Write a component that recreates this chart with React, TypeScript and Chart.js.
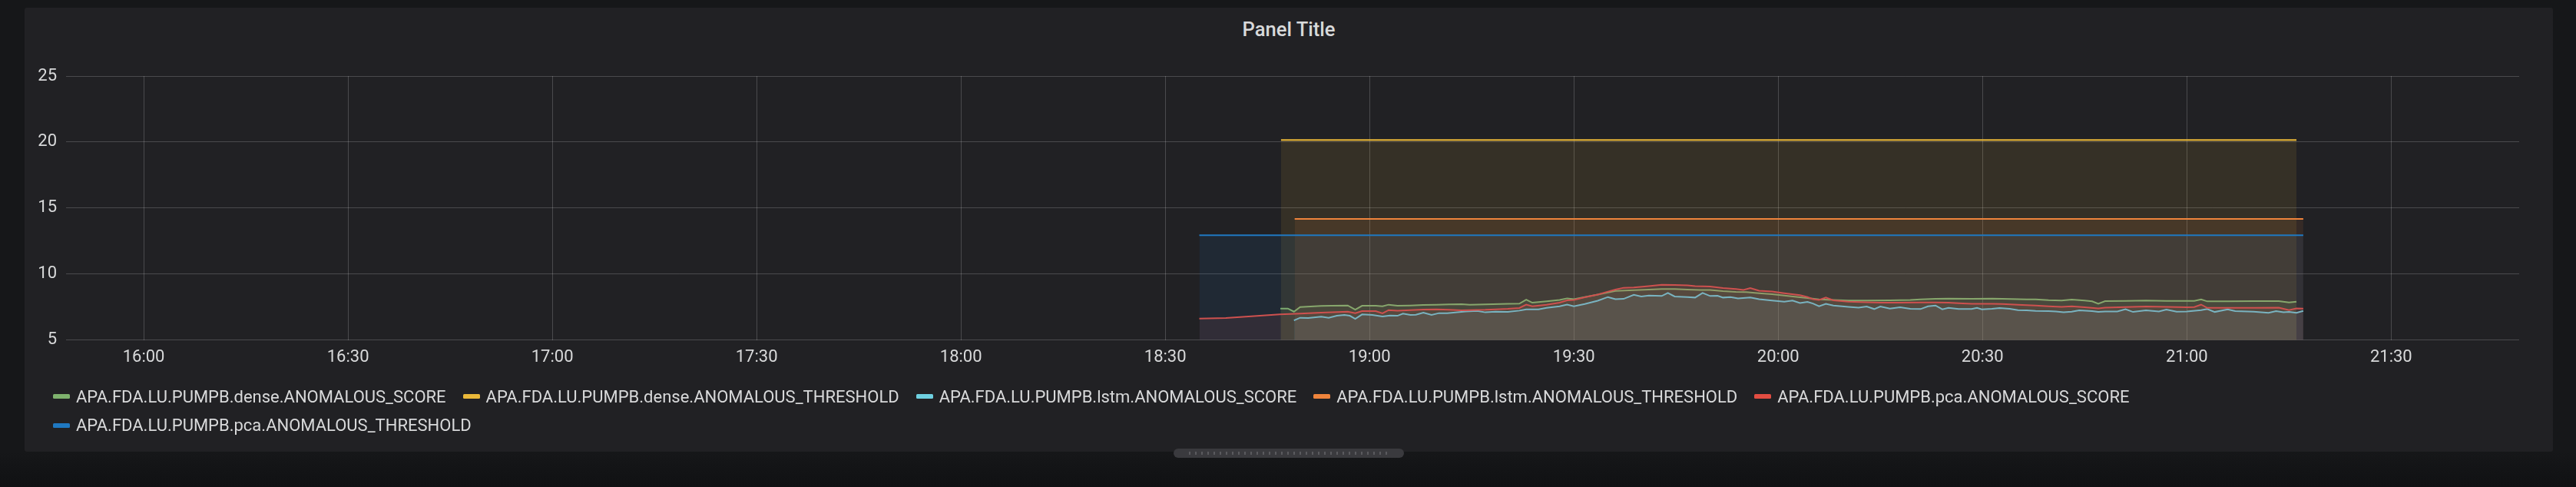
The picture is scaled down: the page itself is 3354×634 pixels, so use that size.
import React, { useEffect, useRef } from 'react';
import { Chart, registerables } from 'chart.js';

Chart.register(...registerables);

// x values are minutes after midnight
const X_MIN = 948.6;
const X_MAX = 1308.8;
const X_TICKS = [960, 990, 1020, 1050, 1080, 1110, 1140, 1170, 1200, 1230, 1260, 1290];
const Y_TICKS = [5, 10, 15, 20, 25];

const GREEN_T = [1126.9, 1128.0, 1128.9, 1129.8, 1132.9, 1134.4, 1136.8, 1137.9, 1138.9, 1140.9, 1141.9, 1142.8, 1144.1, 1146.0, 1147.9, 1149.8, 1151.7, 1153.5, 1154.7, 1157.0, 1160.3, 1162.0, 1163.0, 1163.9, 1166.0, 1167.9, 1169.0, 1170.0, 1171.6, 1173.5, 1175.0, 1176.1, 1178.8, 1181.0, 1182.9, 1184.8, 1186.7, 1188.5, 1190.0, 1191.9, 1193.8, 1195.3, 1197.2, 1199.1, 1200.9, 1203.2, 1204.3, 1206.0, 1208.1, 1210.3, 1213.0, 1216.4, 1219.4, 1220.9, 1223.1, 1225.0, 1228.4, 1231.4, 1232.9, 1236.5, 1237.8, 1239.7, 1241.6, 1243.1, 1245.0, 1246.1, 1247.0, 1248.0, 1251.0, 1254.0, 1257.0, 1260.0, 1261.1, 1262.1, 1263.0, 1266.0, 1269.8, 1273.5, 1275.0, 1276.1];
const GREEN_V = [7.39, 7.39, 7.15, 7.50, 7.58, 7.60, 7.62, 7.31, 7.60, 7.60, 7.56, 7.68, 7.60, 7.62, 7.66, 7.68, 7.70, 7.72, 7.68, 7.70, 7.74, 7.76, 8.06, 7.83, 7.93, 8.04, 8.16, 8.10, 8.26, 8.45, 8.61, 8.72, 8.78, 8.82, 8.86, 8.86, 8.82, 8.80, 8.80, 8.70, 8.65, 8.63, 8.55, 8.47, 8.37, 8.24, 8.18, 8.08, 8.04, 7.99, 7.99, 8.01, 8.04, 8.08, 8.12, 8.14, 8.12, 8.14, 8.12, 8.08, 8.08, 8.02, 7.99, 8.06, 7.99, 7.93, 7.75, 7.95, 7.97, 7.99, 7.97, 7.97, 7.97, 8.08, 7.93, 7.93, 7.95, 7.95, 7.85, 7.91];

const YELLOW_T = [1127.0, 1276.1];
const YELLOW_V = [20.15, 20.15];

const CYAN_T = [1128.9, 1129.8, 1131.0, 1132.9, 1134.0, 1135.2, 1136.3, 1137.1, 1137.9, 1138.9, 1140.4, 1141.9, 1143.0, 1144.1, 1144.9, 1146.0, 1146.8, 1147.9, 1149.1, 1150.2, 1151.4, 1152.9, 1154.1, 1155.8, 1157.0, 1158.5, 1160.3, 1162.0, 1163.0, 1164.8, 1166.0, 1167.9, 1169.0, 1170.0, 1171.6, 1173.5, 1175.0, 1176.1, 1177.3, 1178.8, 1179.9, 1181.0, 1182.9, 1183.8, 1184.8, 1186.7, 1187.8, 1188.9, 1190.0, 1191.1, 1191.9, 1193.0, 1194.1, 1195.9, 1197.2, 1199.1, 1200.9, 1202.1, 1203.2, 1204.3, 1205.1, 1206.0, 1207.0, 1208.1, 1210.3, 1211.8, 1213.0, 1214.1, 1215.0, 1216.4, 1217.9, 1219.4, 1220.9, 1222.0, 1223.1, 1224.1, 1225.0, 1226.5, 1228.4, 1229.2, 1229.9, 1231.4, 1232.5, 1234.0, 1235.2, 1236.5, 1237.8, 1239.7, 1240.8, 1241.9, 1243.1, 1244.2, 1246.1, 1247.0, 1248.0, 1249.8, 1251.0, 1252.1, 1254.0, 1255.9, 1257.0, 1258.5, 1260.0, 1262.1, 1263.0, 1264.1, 1266.0, 1267.1, 1269.8, 1272.0, 1273.1, 1274.2, 1275.0, 1276.1, 1277.1];
const CYAN_V = [6.49, 6.69, 6.67, 6.77, 6.69, 6.84, 6.90, 6.84, 6.61, 6.94, 6.90, 6.79, 6.86, 6.84, 7.00, 6.90, 6.92, 7.08, 6.90, 7.04, 7.04, 7.11, 7.17, 7.21, 7.10, 7.15, 7.13, 7.23, 7.33, 7.33, 7.44, 7.56, 7.69, 7.56, 7.73, 7.98, 8.26, 8.10, 8.12, 8.43, 8.30, 8.37, 8.34, 8.57, 8.30, 8.26, 8.22, 8.57, 8.34, 8.36, 8.22, 8.26, 8.16, 8.22, 8.10, 8.00, 7.91, 7.99, 7.81, 7.89, 7.77, 7.56, 7.75, 7.62, 7.52, 7.46, 7.54, 7.35, 7.54, 7.39, 7.48, 7.37, 7.35, 7.56, 7.62, 7.33, 7.44, 7.35, 7.35, 7.44, 7.33, 7.37, 7.42, 7.37, 7.27, 7.25, 7.21, 7.19, 7.17, 7.10, 7.15, 7.25, 7.19, 7.13, 7.17, 7.17, 7.34, 7.13, 7.25, 7.17, 7.31, 7.15, 7.17, 7.27, 7.35, 7.13, 7.33, 7.19, 7.15, 7.06, 7.19, 7.10, 7.13, 7.06, 7.21];

const ORANGE_T = [1129.0, 1277.1];
const ORANGE_V = [14.18, 14.18];

const RED_T = [1115.0, 1118.9, 1126.8, 1129.8, 1132.9, 1136.8, 1137.9, 1138.9, 1140.9, 1141.9, 1142.8, 1144.1, 1146.0, 1147.9, 1149.8, 1151.7, 1153.5, 1157.0, 1158.5, 1160.3, 1162.0, 1163.0, 1163.9, 1166.0, 1167.9, 1169.0, 1170.0, 1171.6, 1173.5, 1175.0, 1176.1, 1177.3, 1178.8, 1181.0, 1182.9, 1184.8, 1186.7, 1187.8, 1190.0, 1191.9, 1193.8, 1194.9, 1195.9, 1197.2, 1199.1, 1200.9, 1203.2, 1204.3, 1205.1, 1206.0, 1207.0, 1208.1, 1210.3, 1213.0, 1215.0, 1217.9, 1220.9, 1223.1, 1225.0, 1226.5, 1228.4, 1231.4, 1232.9, 1235.2, 1237.8, 1239.7, 1241.6, 1243.1, 1245.0, 1247.0, 1248.0, 1251.0, 1254.0, 1257.0, 1260.0, 1261.1, 1262.1, 1263.0, 1266.0, 1269.8, 1273.5, 1275.0, 1276.1, 1277.1];
const RED_V = [6.63, 6.67, 6.94, 7.00, 7.08, 7.15, 7.04, 7.19, 7.19, 7.02, 7.27, 7.23, 7.27, 7.31, 7.33, 7.29, 7.25, 7.29, 7.33, 7.37, 7.43, 7.68, 7.56, 7.68, 7.83, 8.01, 8.04, 8.24, 8.45, 8.67, 8.82, 8.96, 8.99, 9.09, 9.19, 9.17, 9.15, 9.09, 9.05, 8.94, 8.86, 8.80, 8.94, 8.74, 8.68, 8.55, 8.40, 8.26, 8.10, 8.04, 8.22, 8.01, 7.91, 7.87, 7.83, 7.83, 7.85, 7.85, 7.83, 7.79, 7.75, 7.75, 7.73, 7.68, 7.62, 7.56, 7.52, 7.56, 7.48, 7.40, 7.46, 7.50, 7.54, 7.52, 7.48, 7.50, 7.69, 7.44, 7.44, 7.44, 7.46, 7.27, 7.40, 7.38];

const BLUE_T = [1115.0, 1277.1];
const BLUE_V = [12.94, 12.94];

const SERIES_NAMES = [
  'APA.FDA.LU.PUMPB.dense.ANOMALOUS_SCORE',
  'APA.FDA.LU.PUMPB.dense.ANOMALOUS_THRESHOLD',
  'APA.FDA.LU.PUMPB.lstm.ANOMALOUS_SCORE',
  'APA.FDA.LU.PUMPB.lstm.ANOMALOUS_THRESHOLD',
  'APA.FDA.LU.PUMPB.pca.ANOMALOUS_SCORE',
  'APA.FDA.LU.PUMPB.pca.ANOMALOUS_THRESHOLD',
];
const SERIES_COLORS = ['#7EB26D', '#EAB839', '#6ED0E0', '#EF843C', '#E24D42', '#1F78C1'];

const TEXT = '#d8d9da';
const FONT = 'Roboto, "Noto Sans", sans-serif';

function withAlpha(hex: string, a: number) {
  const n = parseInt(hex.slice(1), 16);
  return `rgba(${(n >> 16) & 255}, ${(n >> 8) & 255}, ${n & 255}, ${a})`;
}

function fmtTime(v: number) {
  const h = Math.floor(v / 60);
  const m = Math.round(v - h * 60);
  return `${h}:${String(m).padStart(2, '0')}`;
}

export default function App() {
  const ref = useRef<HTMLCanvasElement | null>(null);

  useEffect(() => {
    const series: [number[], number[]][] = [
      [GREEN_T, GREEN_V],
      [YELLOW_T, YELLOW_V],
      [CYAN_T, CYAN_V],
      [ORANGE_T, ORANGE_V],
      [RED_T, RED_V],
      [BLUE_T, BLUE_V],
    ];
    const datasets = series.map(([t, v], i) => {
      const n = Math.min(t.length, v.length);
      const data = [] as { x: number; y: number }[];
      for (let j = 0; j < n; j++) data.push({ x: t[j], y: v[j] });
      return {
        label: SERIES_NAMES[i],
        data,
        borderColor: SERIES_COLORS[i],
        backgroundColor: withAlpha(SERIES_COLORS[i], 0.1),
        borderWidth: 2,
        pointRadius: 0,
        pointHoverRadius: 0,
        fill: 'start',
        tension: 0,
        order: 5 - i,
      };
    });

    const chart = new Chart(ref.current as HTMLCanvasElement, {
      type: 'line',
      data: { datasets: datasets as any },
      options: {
        animation: false,
        responsive: false,
        maintainAspectRatio: false,
        layout: { padding: { top: 39, right: 44, left: 0, bottom: 0 } },
        plugins: {
          legend: { display: false },
          title: { display: false },
          tooltip: { enabled: false },
        },
        scales: {
          x: {
            type: 'linear',
            min: X_MIN,
            max: X_MAX,
            z: 1,
            afterBuildTicks: (s: any) => {
              s.ticks = X_TICKS.map((value) => ({ value }));
            },
            afterFit: (s: any) => {
              s.height = 57.3;
            },
            grid: { color: 'rgba(255,255,255,0.19)', drawTicks: false, lineWidth: 1 },
            border: { display: false },
            ticks: {
              color: TEXT,
              font: { family: FONT, size: 22 },
              padding: 10,
              maxRotation: 0,
              autoSkip: false,
              callback: (v: any) => fmtTime(Number(v)),
            },
          },
          y: {
            type: 'linear',
            min: 5,
            max: 25,
            z: 1,
            afterBuildTicks: (s: any) => {
              s.ticks = Y_TICKS.map((value) => ({ value }));
            },
            afterFit: (s: any) => {
              s.width = 54;
            },
            grid: { color: 'rgba(255,255,255,0.19)', drawTicks: false, lineWidth: 1 },
            border: { display: false },
            ticks: {
              color: TEXT,
              font: { family: FONT, size: 22 },
              padding: 12,
              callback: (v: any) => String(v),
            },
          },
        },
      } as any,
    });
    return () => chart.destroy();
  }, []);

  return (
    <div
      style={{
        position: 'fixed',
        left: 0,
        top: 0,
        width: 3354,
        height: 634,
        background: 'linear-gradient(to bottom, #161719 0px, #161719 588px, #101113 634px)',
        overflow: 'hidden',
        fontFamily: FONT,
      }}
    >
      <div
        style={{
          position: 'absolute',
          left: 32,
          top: 10,
          width: 3292,
          height: 578,
          background: '#212124',
          borderRadius: 3,
        }}
      />
      <div
        style={{
          position: 'absolute',
          left: 32,
          top: 26,
          width: 3292,
          textAlign: 'center',
          color: TEXT,
          fontSize: 25.6,
          lineHeight: '25.6px',
          fontWeight: 500,
        }}
      >
        Panel Title
      </div>
      <canvas
        ref={ref}
        width={3292}
        height={440}
        style={{ position: 'absolute', left: 32, top: 60, width: 3292, height: 440 }}
      />
      <div
        style={{
          position: 'absolute',
          left: 69,
          top: 497.5,
          width: 3211,
          display: 'flex',
          flexWrap: 'wrap',
        }}
      >
        {SERIES_NAMES.map((name, i) => (
          <div
            key={name}
            style={{
              display: 'flex',
              alignItems: 'center',
              height: 37.5,
              marginRight: 22,
              whiteSpace: 'nowrap',
            }}
          >
            <div
              style={{
                width: 22,
                height: 6,
                borderRadius: 1.5,
                background: SERIES_COLORS[i],
                marginRight: 8,
              }}
            />
            <span style={{ color: TEXT, fontSize: 22, lineHeight: '37.5px' }}>{name}</span>
          </div>
        ))}
      </div>
      <div
        style={{
          position: 'absolute',
          left: 1528,
          top: 584,
          width: 300,
          height: 12,
          borderRadius: 6,
          background: '#3a3a3e',
        }}
      >
        <div
          style={{
            position: 'absolute',
            left: 20,
            right: 18,
            top: 4,
            height: 4,
            background: 'repeating-linear-gradient(to right, #5a5a5e 0px, #5a5a5e 2px, transparent 2px, transparent 8px)',
          }}
        />
      </div>
    </div>
  );
}
